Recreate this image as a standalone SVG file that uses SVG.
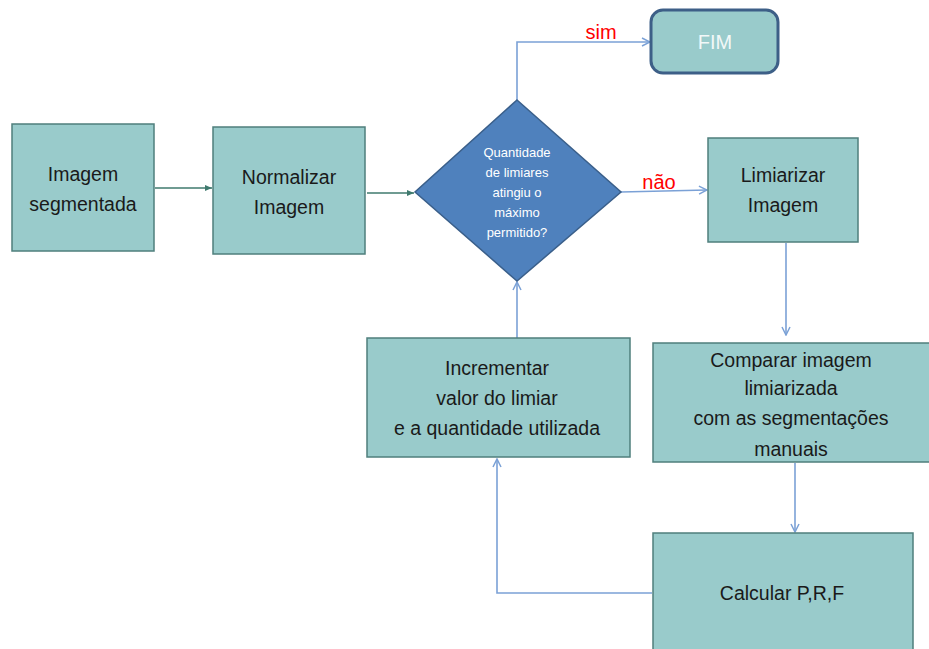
<svg xmlns="http://www.w3.org/2000/svg" width="929" height="649" viewBox="0 0 929 649">
<style>
.box{fill:#99cbcb;stroke:#4f7f7c;stroke-width:1.5}
.t{font-family:"Liberation Sans",Arial,sans-serif;font-size:19.5px;fill:#1a1a1a;text-anchor:middle}
.dt{font-family:"Liberation Sans",Arial,sans-serif;font-size:13px;fill:#ffffff;text-anchor:middle}
.lbl{font-family:"Liberation Sans",Arial,sans-serif;font-size:20px;fill:#ff0000;text-anchor:middle}
.c{fill:none;stroke:#7ba1d6;stroke-width:1.6}
.cg{fill:none;stroke:#3f7a6e;stroke-width:1.6}
</style>
<defs>
<marker id="ab" markerWidth="10" markerHeight="10" refX="9" refY="5" orient="auto" markerUnits="userSpaceOnUse">
<path d="M1,1 L9,5 L1,9" fill="none" stroke="#7ba1d6" stroke-width="1.5"/>
</marker>
<marker id="ag" markerWidth="8" markerHeight="8" refX="7" refY="4" orient="auto" markerUnits="userSpaceOnUse">
<path d="M0,1 L7,4 L0,7 Z" fill="#3f7a6e"/>
</marker>
</defs>
<rect width="929" height="649" fill="#ffffff"/>
<g id="connectors">
<path class="cg" d="M155,188 L212,188" marker-end="url(#ag)"/>
<path class="cg" d="M367,193 L414,193" marker-end="url(#ag)"/>
<path class="c" d="M517,100 L517,42 L650,42" marker-end="url(#ab)"/>
<path class="c" d="M621,192 L707,190" marker-end="url(#ab)"/>
<path class="c" d="M786,243 L786,335" marker-end="url(#ab)"/>
<path class="c" d="M795,463 L795,532" marker-end="url(#ab)"/>
<path class="c" d="M652,593 L497,593 L497,459" marker-end="url(#ab)"/>
<path class="c" d="M517,338 L517,282" marker-end="url(#ab)"/>
<text class="lbl" x="601" y="39">sim</text>
<text class="lbl" x="659" y="189">não</text>
</g>
<g id="imagem-segmentada">
<rect class="box" x="12" y="124" width="142" height="127"/>
<text class="t" x="83" y="181">Imagem</text>
<text class="t" x="83" y="211">segmentada</text>
</g>
<g id="normalizar">
<rect class="box" x="213" y="127" width="152" height="127"/>
<text class="t" x="289" y="184">Normalizar</text>
<text class="t" x="289" y="214">Imagem</text>
</g>
<g id="decisao">
<polygon points="517,100 621,192 517,281 415,192" fill="#4f81bd" stroke="#3a5f8a" stroke-width="1.5"/>
<text class="dt" x="517" y="157">Quantidade</text>
<text class="dt" x="517" y="177">de limiares</text>
<text class="dt" x="517" y="197">atingiu o</text>
<text class="dt" x="517" y="217">máximo</text>
<text class="dt" x="517" y="237">permitido?</text>
</g>
<g id="fim">
<rect x="651" y="10" width="127" height="63" rx="12" ry="12" fill="#99cbcb" stroke="#3d5f87" stroke-width="3"/>
<text x="715" y="49" font-family="Liberation Sans, Arial, sans-serif" font-size="20" fill="#f2f8f8" text-anchor="middle">FIM</text>
</g>
<g id="limiarizar">
<rect class="box" x="708" y="138" width="150" height="104"/>
<text class="t" x="783" y="182">Limiarizar</text>
<text class="t" x="783" y="212">Imagem</text>
</g>
<g id="comparar">
<rect class="box" x="653" y="343" width="280" height="119"/>
<text class="t" x="791" y="367">Comparar imagem</text>
<text class="t" x="791" y="395">limiarizada</text>
<text class="t" x="791" y="425">com as segmentações</text>
<text class="t" x="791" y="456">manuais</text>
</g>
<g id="incrementar">
<rect class="box" x="367" y="338" width="263" height="119"/>
<text class="t" x="497" y="375">Incrementar</text>
<text class="t" x="497" y="405">valor do limiar</text>
<text class="t" x="497" y="435">e a quantidade utilizada</text>
</g>
<g id="calcular">
<rect class="box" x="653" y="533" width="260" height="130"/>
<text class="t" x="782" y="600">Calcular P,R,F</text>
</g>
</svg>
